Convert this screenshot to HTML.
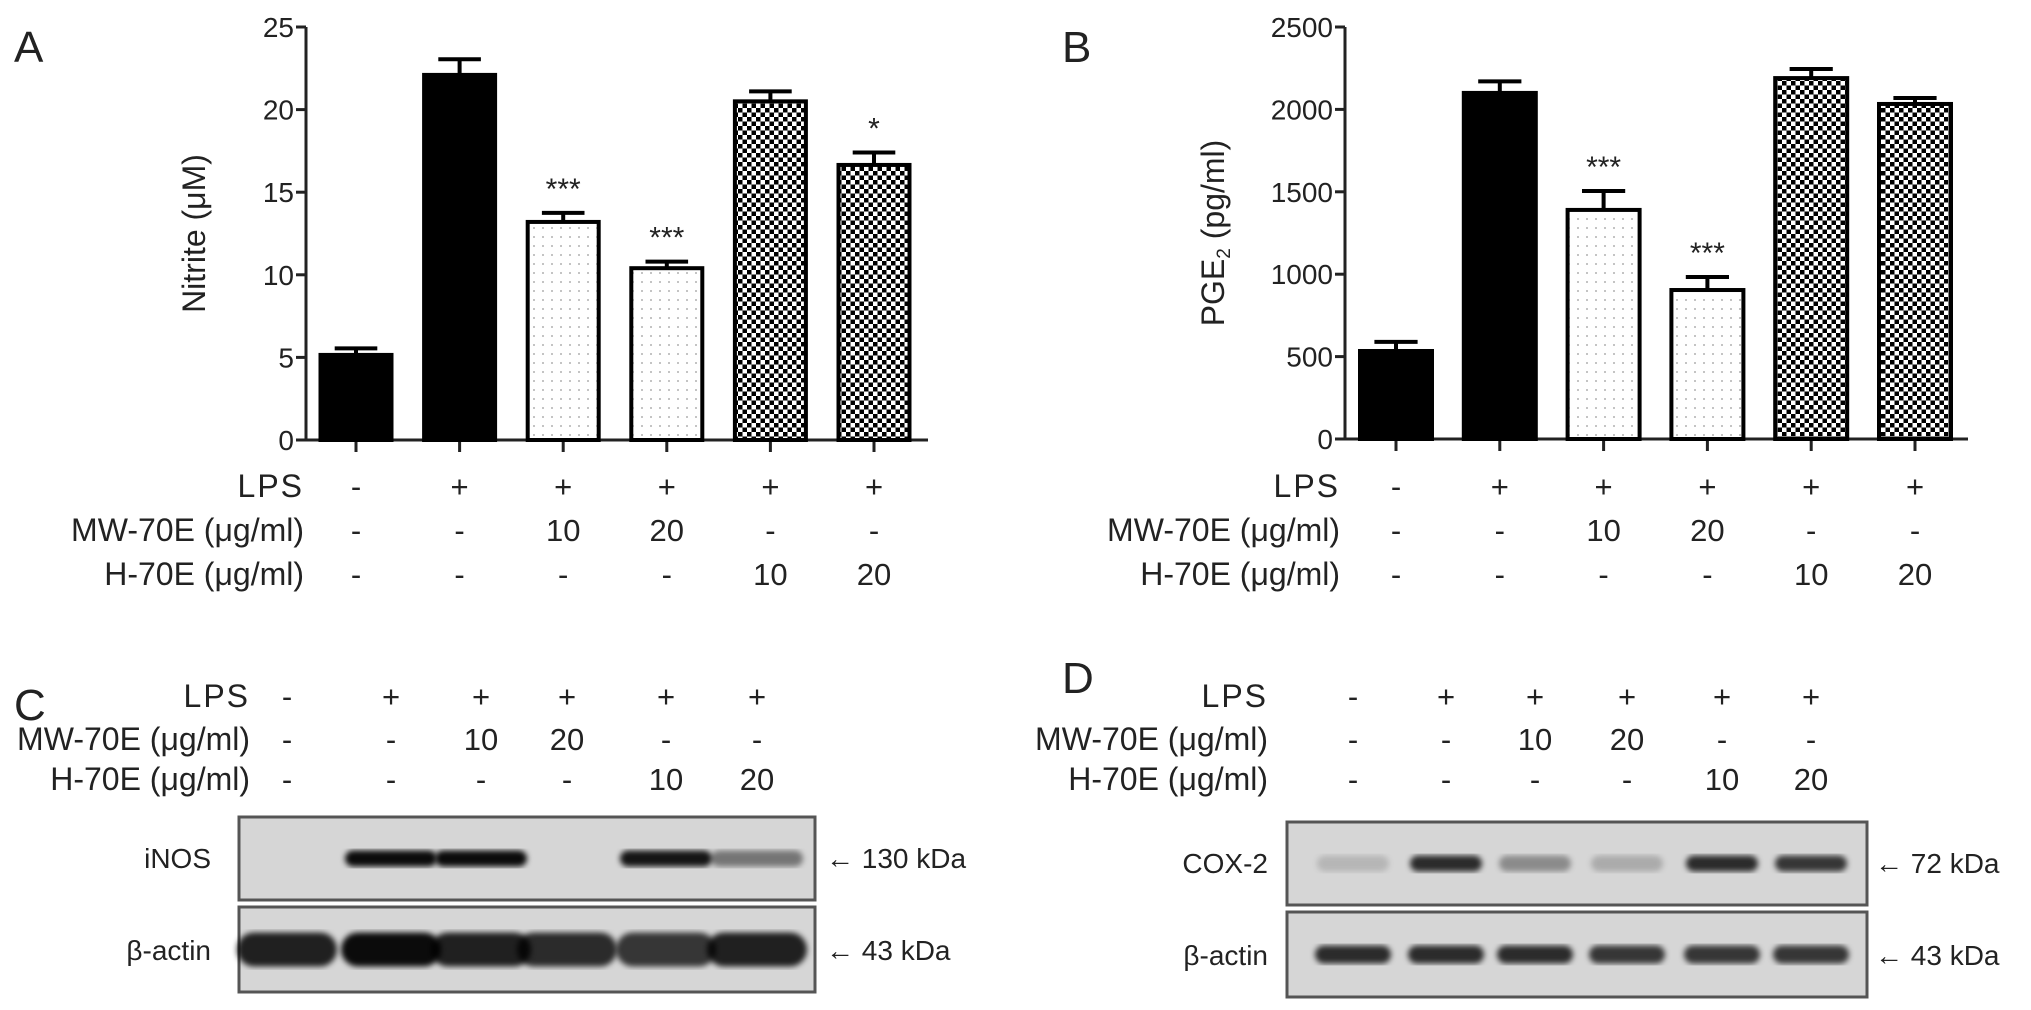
<!DOCTYPE html>
<html><head><meta charset="utf-8"><style>
html,body{margin:0;padding:0;background:#fff}
svg{display:block}
text{font-family:"Liberation Sans",sans-serif;fill:#222}
</style></head><body>
<svg id="fig" width="2031" height="1010" viewBox="0 0 2031 1010">
<defs>
<pattern id="dots" width="9" height="9" patternUnits="userSpaceOnUse"><rect width="9" height="9" fill="#fff"/><circle cx="3" cy="3" r="0.9" fill="#999"/></pattern>
<pattern id="check" width="9" height="9" patternUnits="userSpaceOnUse"><rect width="9" height="9" fill="#fff"/><rect x="0" y="0" width="4.5" height="4.5" fill="#000"/><rect x="4.5" y="4.5" width="4.5" height="4.5" fill="#000"/></pattern>
<filter id="blur"><feGaussianBlur stdDeviation="3"/></filter>
</defs>
</svg>
<script>
const groups = ["ctrl","lps","mw10","mw20","h10","h20"];
const nitriteMean = [5.15, 22.1, 13.2, 10.4, 20.5, 16.65];
const nitriteErr  = [0.4, 0.95, 0.55, 0.4, 0.6, 0.75];
const nitriteSig  = ["", "", "***", "***", "", "*"];
const nitriteTicks = [0,5,10,15,20,25];
const pgeMean = [534, 2100, 1390, 904, 2190, 2033];
const pgeErr  = [55, 70, 115, 79, 55, 36];
const pgeSig  = ["", "", "***", "***", "", ""];
const pgeTicks = [0,500,1000,1500,2000,2500];
const lpsRow = ["-","+","+","+","+","+"];
const mwRow  = ["-","-","10","20","-","-"];
const hRow   = ["-","-","-","-","10","20"];
const inosBands  = [0.0, 0.95, 0.95, 0.0, 0.9, 0.45];
const actinC     = [0.85, 0.95, 0.85, 0.8, 0.75, 0.85];
const cox2Bands  = [0.15, 0.8, 0.35, 0.2, 0.8, 0.75];
const actinD     = [0.8, 0.8, 0.8, 0.75, 0.75, 0.75];
const fills = ["#000","#000","url(#dots)","url(#dots)","url(#check)","url(#check)"];

const svg = document.getElementById('fig');
const NS = "http://www.w3.org/2000/svg";
function mk(tag, attrs, parent){const e=document.createElementNS(NS,tag);for(const k in attrs)e.setAttribute(k,attrs[k]);(parent||svg).appendChild(e);return e;}
function txt(s, attrs, parent){const e=mk('text',attrs,parent);e.textContent=s;return e;}

function chart(o){
  const g=mk('g',{});
  
  
  const y = v => o.y0 - (v/o.max)*(o.y0-o.yTop);
  const x = i => o.x0 + i*o.pitch;
  const ax=mk('line',{x1:o.ax,y1:o.yTop,x2:o.ax,y2:o.y0,stroke:'#222','stroke-width':3},g);
  
  
  o.ticks.forEach(t=>{
    mk('line',{x1:o.ax-10,y1:y(t),x2:o.ax,y2:y(t),stroke:'#222','stroke-width':3},g);
    const tl=txt(String(t),{x:o.ax-12,y:y(t)+10,'font-size':28,'text-anchor':'end'},g);
    
    
  });
  const xa=mk('line',{x1:o.ax,y1:o.y0,x2:o.axEnd,y2:o.y0,stroke:'#222','stroke-width':3},g);
  
  
  o.mean.forEach((v,i)=>{
    const cx=x(i), w=o.bw;
    mk('line',{x1:cx,y1:o.y0,x2:cx,y2:o.y0+12,stroke:'#222','stroke-width':3},g);
    mk('line',{x1:cx,y1:y(v),x2:cx,y2:y(v+o.err[i]),stroke:'#000','stroke-width':4},g);
    mk('line',{x1:cx-w*0.3,y1:y(v+o.err[i]),x2:cx+w*0.3,y2:y(v+o.err[i]),stroke:'#000','stroke-width':4},g);
    const b=mk('rect',{x:cx-w/2,y:y(v),width:w,height:o.y0-y(v),fill:fills[i],stroke:'#000','stroke-width':4},g);
    
    
    if(o.sig[i]){
      const s=txt(o.sig[i],{x:cx,y:y(v+o.err[i])-14,'font-size':30,'text-anchor':'middle',fill:'#444'},g);
      
      
    }
  });
  const yl=txt(o.ylabel,{transform:`translate(${o.ylx},${(o.y0+o.yTop)/2}) rotate(-90)`,'font-size':32,'text-anchor':'middle'},g);
  
  
  if(o.sub){yl.innerHTML='PGE<tspan font-size="19" dy="6">2</tspan><tspan dy="-6"> (pg/ml)</tspan>';}
  return x;
}
function table(xs, labelX, ys, name){
  const g=mk('g',{});
  
  
  const rows=[["LPS",lpsRow],["MW-70E (μg/ml)",mwRow],["H-70E (μg/ml)",hRow]];
  rows.forEach((r,ri)=>{
    const l=txt(r[0],{x:labelX,y:ys[ri],'font-size':32,'text-anchor':'end','letter-spacing':r[0]=="LPS"?2:0},g);
    
    
    r[1].forEach((v,i)=>{txt(v,{x:xs[i],y:ys[ri],'font-size':31,'text-anchor':'middle'},g);});
  });
}
function blot(xs, x0, x1, y0, y1, vals, bandH, bandW, name){
  const g=mk('g',{});
  
  
  mk('rect',{x:x0,y:y0,width:x1-x0,height:y1-y0,fill:'#d6d6d6',stroke:'#555','stroke-width':3},g);
  const cy=(y0+y1)/2;
  vals.forEach((v,i)=>{
    if(v<=0)return;
    const b=mk('rect',{x:xs[i]-bandW/2,y:cy-bandH/2,width:bandW,height:bandH,rx:bandH/2,fill:'#000','fill-opacity':v,filter:'url(#blur)'},g);
    
    
  });
}

const xA = chart({name:'chart-nitrite',mean:nitriteMean,err:nitriteErr,sig:nitriteSig,ticks:nitriteTicks,max:25,ax:306,axEnd:928,yTop:27,y0:440,x0:356,pitch:103.6,bw:71,ylabel:'Nitrite (μM)',ylx:205});
table(nitriteMean.map((_,i)=>xA(i)), 304, [497,541,585], 'treatment-table-a');
const xB = chart({name:'chart-pge2',mean:pgeMean,err:pgeErr,sig:pgeSig,ticks:pgeTicks,max:2500,ax:1345,axEnd:1968,yTop:27,y0:439,x0:1396,pitch:103.8,bw:72,ylabel:'PGE2 (pg/ml)',ylx:1224,sub:true});
table(pgeMean.map((_,i)=>xB(i)), 1340, [497,541,585], 'treatment-table-b');

[["A",14,62],["B",1062,62],["C",14,720],["D",1062,693]].forEach(p=>{
  const t=txt(p[0],{x:p[1],y:p[2],'font-size':44,fill:'#111'});
  
  
});

const lanesC=[287,391,481,567,666,757];
table(lanesC, 250, [707,750,790], 'treatment-table-c');
blot(lanesC,239,815,817,900,inosBands,16,92,'blot-inos');
blot(lanesC,239,815,907,992,actinC,34,100,'blot-actin-c');
[["iNOS",211,868],["β-actin",211,960]].forEach(p=>{const t=txt(p[0],{x:p[1],y:p[2],'font-size':28,'text-anchor':'end'});});
[["← 130 kDa",826,868],["← 43 kDa",826,960]].forEach(p=>{const t=txt(p[0],{x:p[1],y:p[2],'font-size':28});});

const lanesD=[1353,1446,1535,1627,1722,1811];
table(lanesD, 1268, [707,750,790], 'treatment-table-d');
blot(lanesD,1287,1867,822,905,cox2Bands,16,72,'blot-cox2');
blot(lanesD,1287,1867,912,997,actinD,18,76,'blot-actin-d');
[["COX-2",1268,873],["β-actin",1268,965]].forEach(p=>{const t=txt(p[0],{x:p[1],y:p[2],'font-size':28,'text-anchor':'end'});});
[["← 72 kDa",1875,873],["← 43 kDa",1875,965]].forEach(p=>{const t=txt(p[0],{x:p[1],y:p[2],'font-size':28});});
</script>
</body></html>
